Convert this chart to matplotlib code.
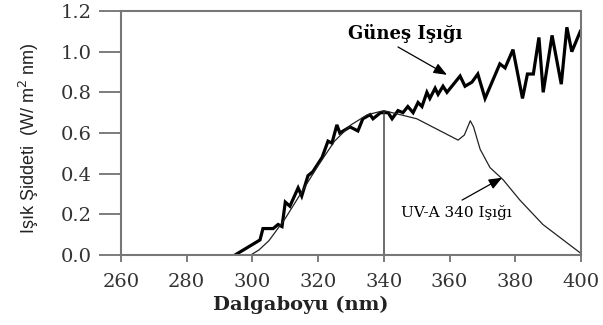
import matplotlib.pyplot as plt
from matplotlib import font_manager

# --- data ---
sun_nm = [294.7, 302.3, 303.2, 306.3, 307.8, 309.0, 310.0, 311.4, 313.9, 315.0,
          316.9, 318.4, 321.2, 323.0, 324.2, 325.7, 326.6, 329.7, 332.1, 333.6,
          335.8, 336.7, 339.0, 341.3, 342.5, 344.3, 345.8, 347.3, 348.9, 350.4,
          351.6, 353.1, 354.0, 355.6, 356.5, 358.0, 359.2, 363.2, 364.7, 366.8,
          368.6, 370.8, 375.3, 376.9, 379.3, 382.2, 383.7, 385.5, 387.2, 388.5,
          391.2, 394.0, 395.7, 397.2, 399.8]
sun_val = [0.00, 0.074, 0.13, 0.13, 0.15, 0.14, 0.26, 0.24, 0.33, 0.29,
           0.39, 0.41, 0.48, 0.56, 0.55, 0.64, 0.60, 0.63, 0.61, 0.67,
           0.69, 0.67, 0.70, 0.70, 0.67, 0.71, 0.70, 0.73, 0.70, 0.75,
           0.73, 0.80, 0.77, 0.82, 0.79, 0.83, 0.80, 0.88, 0.83, 0.85,
           0.89, 0.77, 0.94, 0.92, 1.01, 0.77, 0.89, 0.89, 1.07, 0.80,
           1.08, 0.84, 1.12, 1.00, 1.10]

uva_nm = [299.5, 302, 305, 310, 315, 320, 325, 330, 335, 340,
          350, 362.6, 364.5, 366.3, 367.3, 369.3, 372.3, 376.3, 381.4, 388.4, 399.8]
uva_val = [0.00, 0.025, 0.07, 0.18, 0.31, 0.44, 0.56, 0.64, 0.69, 0.71,
           0.67, 0.565, 0.59, 0.66, 0.63, 0.52, 0.43, 0.37, 0.27, 0.15, 0.01]

cut_nm = 340
cut_top = 0.70

xticks = [260, 280, 300, 320, 340, 360, 380, 400]
yticks = [0.0, 0.2, 0.4, 0.6, 0.8, 1.0, 1.2]

serif = 'DejaVu Serif'
names = {f.name for f in font_manager.fontManager.ttflist}
narrow = 'Liberation Sans Narrow' if 'Liberation Sans Narrow' in names else 'Liberation Sans'

fig = plt.figure(figsize=(6.03, 3.25), dpi=100)
ax = fig.add_axes([0.2007, 0.2154, 0.7628, 0.7508])

ax.plot(sun_nm, sun_val, color='black', lw=2.3, solid_joinstyle='miter')
ax.plot(uva_nm, uva_val, color='#222222', lw=0.9)
ax.plot([cut_nm, cut_nm], [0, cut_top], color='#444444', lw=1.1)

ax.set_xlim(260, 400)
ax.set_ylim(0, 1.2)
ax.set_xticks(xticks)
ax.set_yticks(yticks)
ax.set_xticklabels([str(t) for t in xticks], fontfamily=serif, fontsize=14, color='#333333')
ax.set_yticklabels([f'{t:.1f}' for t in yticks], fontfamily=serif, fontsize=14, color='#333333')
ax.tick_params(axis='y', direction='out', length=16, width=1.2, color='#666666', pad=5)
ax.tick_params(axis='x', direction='out', length=5, width=1.2, color='#666666', pad=8)
for s in ax.spines.values():
    s.set_color('#777777')
    s.set_linewidth(1.5)

ax.set_xlabel('Dalgaboyu (nm)', fontfamily=serif, fontweight='bold', fontsize=14, color='#222222')
ax.xaxis.set_label_coords(0.39, -0.165)
ax.set_ylabel('Işık Şiddeti  (W/ m$^2$ nm)', fontfamily=narrow, fontsize=13, color='#222222')
ax.yaxis.set_label_coords(-0.175, 0.48)

# labels and their arrows
ax.text(346.4, 1.09, 'Güneş Işığı', ha='center', va='center',
        fontfamily=serif, fontweight='bold', fontsize=13)
ax.annotate('', xy=(359.2, 0.886), xytext=(344.3, 1.023),
            arrowprops=dict(arrowstyle='-|>,head_length=0.5,head_width=0.2', color='black',
                            lw=0.9, mutation_scale=16, shrinkA=0, shrinkB=0))
ax.text(362, 0.207, 'UV-A 340 Işığı', ha='center', va='center',
        fontfamily=serif, fontsize=11)
ax.annotate('', xy=(376, 0.38), xytext=(363.8, 0.27),
            arrowprops=dict(arrowstyle='-|>,head_length=0.5,head_width=0.2', color='black',
                            lw=0.9, mutation_scale=16, shrinkA=0, shrinkB=0))

fig.savefig('out.png', dpi=100)
